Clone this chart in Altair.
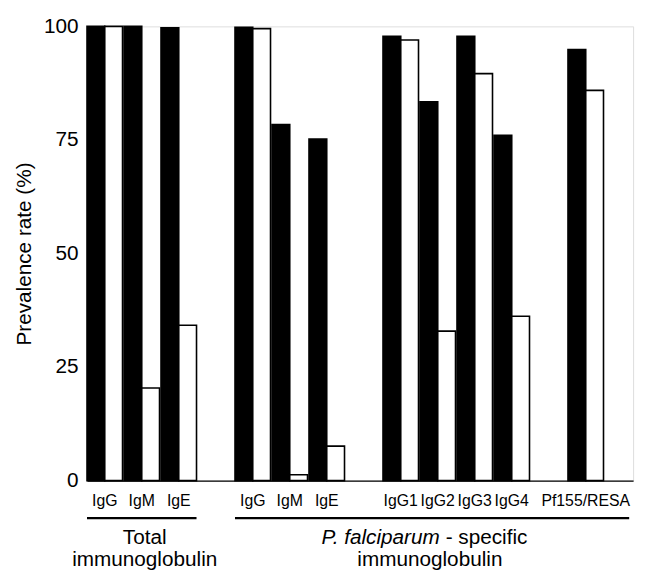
import json
import altair as alt
import pandas as pd

# ---- data -------------------------------------------------------------
slot_keys = ["t_IgG", "t_IgM", "t_IgE", "gap1",
             "p_IgG", "p_IgM", "p_IgE", "gap2",
             "IgG1", "IgG2", "IgG3", "IgG4", "gap3", "Pf155/RESA"]
slot_labels = ["IgG", "IgM", "IgE", "",
               "IgG", "IgM", "IgE", "",
               "IgG1", "IgG2", "IgG3", "IgG4", "", "Pf155/RESA"]

bar_keys = ["t_IgG", "t_IgM", "t_IgE",
            "p_IgG", "p_IgM", "p_IgE",
            "IgG1", "IgG2", "IgG3", "IgG4", "Pf155/RESA"]
series_names = ["Series 1", "Series 2"]
series1_values = [100, 100, 99.7, 99.8, 78.4, 75.2, 97.8, 83.4, 97.8, 76.0, 94.9]
series2_values = [100, 20.4, 34.2, 99.5, 1.3, 7.6, 97.0, 32.9, 89.6, 36.2, 85.9]

y_ticks = [0, 25, 50, 75, 100]
y_title = "Prevalence rate (%)"

total_title = "Total\nimmunoglobulin"
pf_title_italic = "P. falciparum"
pf_title_rest = "- specific"
pf_title_line2 = "immunoglobulin"

# ---- build table ------------------------------------------------------
rows = []
for k, a, b in zip(bar_keys, series1_values, series2_values):
    rows.append({"key": k, "series": series_names[0], "value": a})
    rows.append({"key": k, "series": series_names[1], "value": b})
df = pd.DataFrame(rows)

W, H = 553, 460
FONT = "Liberation Sans"
GT = 21  # group title font size

label_expr = f"{json.dumps(slot_labels)}[indexof({json.dumps(slot_keys)}, datum.value)]"

x_scale = alt.Scale(domain=slot_keys, paddingInner=0.04, paddingOuter=0.4, align=0)
x_axis = alt.Axis(title=None, labelExpr=label_expr, labelAngle=0, ticks=False,
                  tickSize=0, domain=True, domainColor="black", domainWidth=1.3,
                  labelPadding=12, labelFontSize=16, labelColor="black",
                  labelFont=FONT, labelFlush=False, labelOverlap=False)


def xenc(bp):
    return alt.X("key:N", scale=x_scale, axis=x_axis, sort=None, bandPosition=bp)


bars = alt.Chart(df).mark_bar(stroke="black", strokeWidth=1.6).encode(
    x=alt.X("key:N", scale=x_scale, axis=x_axis, sort=None),
    xOffset=alt.XOffset("series:N",
                        scale=alt.Scale(domain=series_names, paddingInner=0, paddingOuter=0)),
    y=alt.Y("value:Q", scale=alt.Scale(domain=[0, 100], nice=False),
            axis=alt.Axis(values=y_ticks, grid=False, domain=False, ticks=False,
                          tickSize=0, labelPadding=9, labelFontSize=21,
                          labelColor="black", labelFont=FONT, title=y_title,
                          titleFontSize=21, titleFont=FONT, titleFontWeight="normal",
                          titleColor="black", titlePadding=9)),
    fill=alt.Fill("series:N", scale=alt.Scale(domain=series_names, range=["black", "white"]),
                  legend=None),
)

line_total = alt.Chart(pd.DataFrame({"key": ["t_IgG"], "end": ["t_IgE"]})).mark_rule(
    color="black", strokeWidth=2.5).encode(
    x=xenc(0),
    x2=alt.X2("end:N", bandPosition=1),
    y=alt.value(498),
)
line_pf = alt.Chart(pd.DataFrame({"key": ["p_IgG"], "end": ["Pf155/RESA"]})).mark_rule(
    color="black", strokeWidth=2.5, x2Offset=26).encode(
    x=xenc(0),
    x2=alt.X2("end:N", bandPosition=1),
    y=alt.value(498),
)

txt_total = alt.Chart(pd.DataFrame({"key": ["t_IgM"], "t": [total_title]})).mark_text(
    font=FONT, fontSize=GT, color="black", align="center", baseline="alphabetic",
    lineBreak="\n", lineHeight=22, dx=3).encode(
    x=xenc(0.5), y=alt.value(524), text="t:N")
txt_pf_it = alt.Chart(pd.DataFrame({"key": ["IgG2"], "t": [pf_title_italic]})).mark_text(
    font=FONT, fontSize=GT, fontStyle="italic", color="black", align="right",
    baseline="alphabetic", dx=20).encode(
    x=xenc(0), y=alt.value(524), text="t:N")
txt_pf_rest = alt.Chart(pd.DataFrame({"key": ["IgG2"], "t": [pf_title_rest]})).mark_text(
    font=FONT, fontSize=GT, color="black", align="left", baseline="alphabetic", dx=26).encode(
    x=xenc(0), y=alt.value(524), text="t:N")
txt_pf2 = alt.Chart(pd.DataFrame({"key": ["IgG2"], "t": [pf_title_line2]})).mark_text(
    font=FONT, fontSize=GT, color="black", align="center", baseline="alphabetic", dx=10).encode(
    x=xenc(0), y=alt.value(546), text="t:N")

chart = alt.layer(bars, line_total, line_pf, txt_total,
                  txt_pf_it, txt_pf_rest, txt_pf2).properties(
    width=W, height=H,
    autosize=alt.AutoSizeParams(type="none"),
    padding={"left": 80, "top": 15, "right": 8, "bottom": 92},
).configure_view(stroke=None).configure(background="white")

chart.save("out.html", embed_options={"renderer": "svg", "actions": False})
